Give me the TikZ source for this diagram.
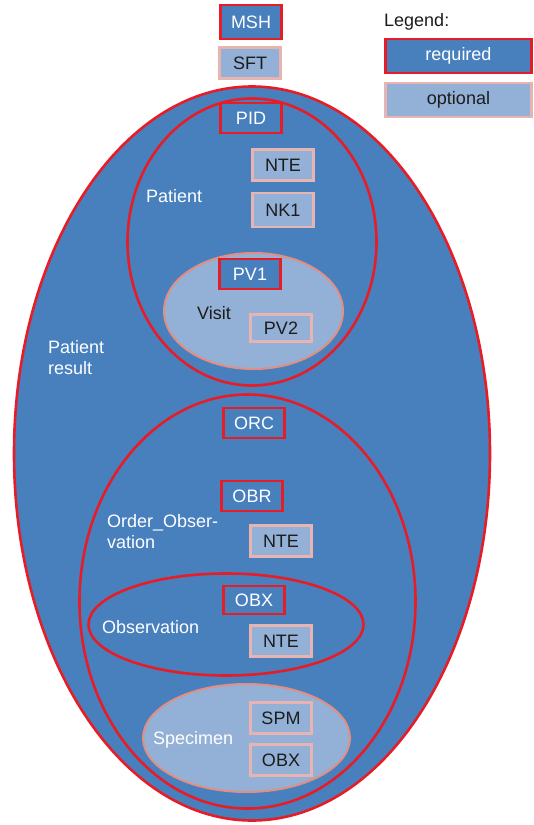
\documentclass[tikz,border=0pt]{standalone}
\usepackage{fontspec}
\setmainfont{Liberation Sans}
\usepackage{tikz}
\usetikzlibrary{positioning,shapes.geometric}
\usepackage{xcolor}
\definecolor{segblue}{RGB}{72,128,190}
\definecolor{segpale}{RGB}{147,177,214}
\definecolor{segred}{RGB}{230,28,38}
\definecolor{segpink}{RGB}{232,180,178}
\definecolor{segsalmon}{RGB}{226,142,130}
\definecolor{segtext}{RGB}{28,28,28}

\tikzset{
  reqbox/.style={rectangle,draw=segred,line width=2.6pt,fill=segblue,text=white,
    minimum width=61pt,minimum height=30pt,inner sep=0pt},
  optbox/.style={rectangle,draw=segpink,line width=2.6pt,fill=segpale,text=segtext,
    minimum width=61pt,minimum height=31pt,inner sep=0pt},
  reqgroup/.style={ellipse,draw=segred,line width=2.6pt,fill=segblue,inner sep=0pt},
  optgroup/.style={ellipse,draw=segsalmon,line width=2pt,fill=segpale,inner sep=0pt},
  grouplabel/.style={align=left,anchor=west,inner sep=0pt}
}

\begin{document}
\begin{tikzpicture}[x=1pt,y=-1pt,font=\fontsize{18}{21}\selectfont]
\useasboundingbox (0,0) rectangle (534,825);

% nested segment groups
\node[reqgroup,minimum width=476pt,minimum height=734pt] (result) at (252,453.5) {};
\node[reqgroup,minimum width=249pt,minimum height=287pt] (patient) at (252,242) {};
\node[optgroup,minimum width=179pt,minimum height=116pt] (visit) at (253.5,311) {};
\node[reqgroup,minimum width=336pt,minimum height=414pt] (order) at (247.5,601.5) {};
\node[reqgroup,minimum width=275pt,minimum height=102pt] (observation) at (226,624.5) {};
\node[optgroup,minimum width=207pt,minimum height=108pt] (specimen) at (246.5,738) {};

% group names
\node[grouplabel,text=white] (resultlbl) at (48,358) {Patient\\result};
\node[grouplabel,text=white] (patientlbl) at (146,196) {Patient};
\node[grouplabel,text=segtext] (visitlbl) at (197,313) {Visit};
\node[grouplabel,text=white] (orderlbl) at (107,532) {Order\_Obser-\\vation};
\node[grouplabel,text=white] (observationlbl) at (102,627) {Observation};
\node[grouplabel,text=white] (specimenlbl) at (153,740) {Specimen};

% segments
\node[reqbox,minimum height=34pt] (msh) at (251,22) {MSH};
\node[optbox] (sft) at (250,63) {SFT};
\node[reqbox] (pid) at (251,118) {PID};
\node[optbox] (pnte) at (283,165) {NTE};
\node[optbox,minimum height=34pt] (nk1) at (283,210) {NK1};
\node[reqbox] (pv1) at (250,274) {PV1};
\node[optbox,minimum height=27pt] (pv2) at (281,328) {PV2};
\node[reqbox] (orc) at (254,423) {ORC};
\node[reqbox] (obr) at (252,496) {OBR};
\node[optbox] (onte) at (281,541) {NTE};
\node[reqbox,minimum height=28pt] (obx) at (254,600) {OBX};
\node[optbox] (xnte) at (281,641) {NTE};
\node[optbox] (spm) at (281,718) {SPM};
\node[optbox] (sobx) at (281,760) {OBX};

% legend
\node[anchor=west,inner sep=0pt,text=segtext] (legend) at (384,22) {Legend:};
\node[reqbox,minimum width=146pt,minimum height=34pt] (required) at (458.5,56) {required};
\node[optbox,minimum width=146pt,minimum height=34pt] (optional) at (458.5,100) {optional};
\end{tikzpicture}
\end{document}
